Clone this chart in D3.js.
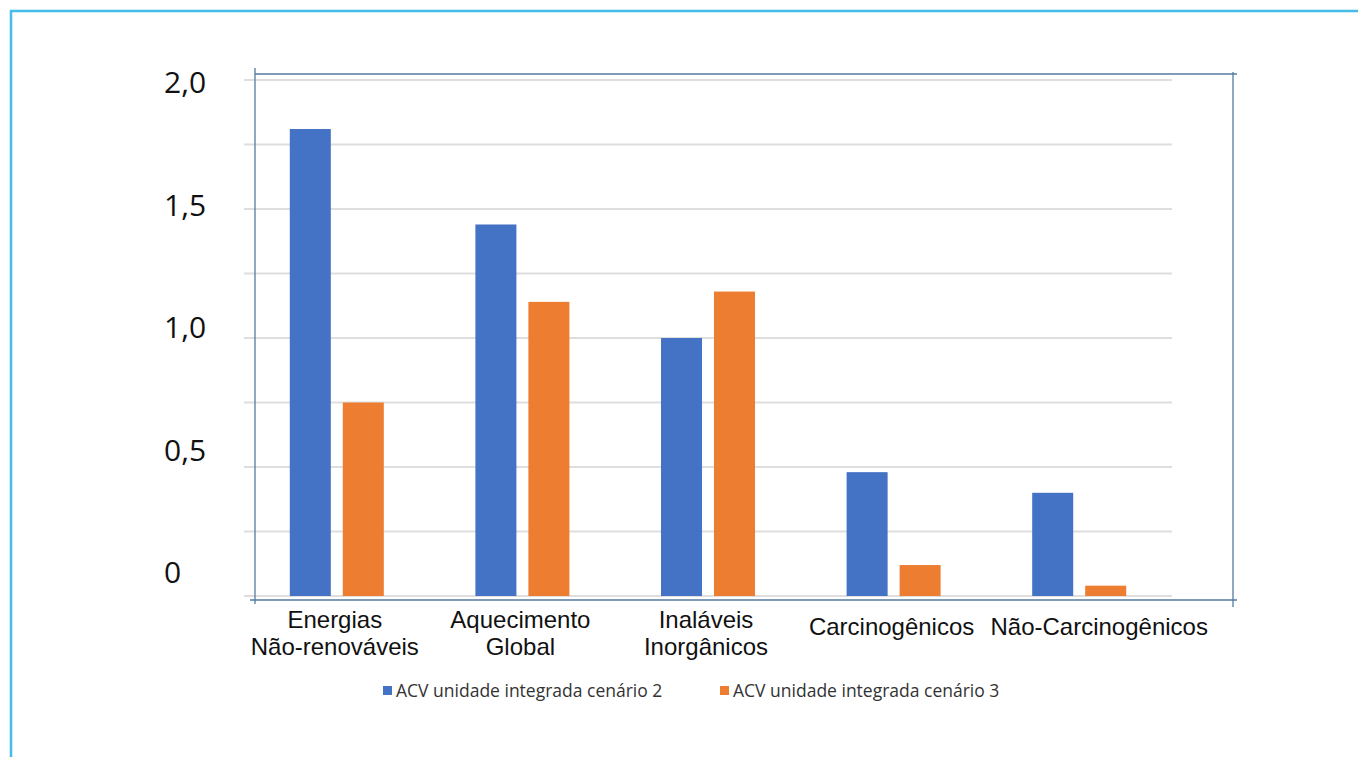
<!DOCTYPE html>
<html>
<head>
<meta charset="utf-8">
<script src="https://cdn.jsdelivr.net/npm/d3@7"></script>
<style>
  body { margin: 0; background: #fff; }
  svg { display: block; }
</style>
</head>
<body>
<div id="chart"></div>
<script>
// categories (each one split into the lines shown under the axis)
let categories = [
    ["Energias", "Não-renováveis"],
    ["Aquecimento", "Global"],
    ["Inaláveis", "Inorgânicos"],
    ["Carcinogênicos"],
    ["Não-Carcinogênicos"]
];

let seriesNames = ["ACV unidade integrada cenário 2", "ACV unidade integrada cenário 3"];
let cenario2 = [1.81, 1.44, 1.00, 0.48, 0.40];
let cenario3 = [0.75, 1.14, 1.18, 0.12, 0.04];
let colors = ["#4472c4", "#ed7d31"];

let gridTicks = [0, 0.25, 0.5, 0.75, 1, 1.25, 1.5, 1.75, 2];
let labelTicks = [0, 0.5, 1, 1.5, 2];
let tickLabels = ["0", "0,5", "1,0", "1,5", "2,0"];

let width = 1358, height = 757;

let svg = d3.select('#chart').append('svg')
    .attr('width', width)
    .attr('height', height);

// light blue page frame (top + left)
svg.append('path')
    .attr('d', 'M11,757 V11 H1358')
    .attr('fill', 'none')
    .attr('stroke', '#45bde6')
    .attr('stroke-width', 2.5);

// scales
let x = d3.scaleBand()
    .domain(d3.range(categories.length))
    .range([244, 1172])
    .paddingInner(0.4935)
    .paddingOuter(0.4935 / 2);

let xs = d3.scaleBand()
    .domain([0, 1])
    .range([0, x.bandwidth()])
    .paddingInner(0.226)
    .paddingOuter(0);

let y = d3.scaleLinear().domain([0, 2]).range([596, 80]);
// the tick text sits on its own, slightly tighter scale in the original
let yLab = d3.scaleLinear().domain([0, 2]).range([572, 82]);

// gridlines
svg.append('g')
    .selectAll('line')
    .data(gridTicks)
    .join('line')
    .attr('x1', 244)
    .attr('x2', 1172)
    .attr('y1', d => y(d))
    .attr('y2', d => y(d))
    .attr('stroke', '#dedede')
    .attr('stroke-width', 2);

// bars
let rows = categories.map((c, i) => [cenario2[i], cenario3[i]]);
let groups = svg.append('g')
    .selectAll('g')
    .data(rows)
    .join('g')
    .attr('transform', (d, i) => `translate(${x(i)},0)`);

groups.selectAll('rect')
    .data(d => d)
    .join('rect')
    .attr('x', (d, j) => xs(j))
    .attr('width', xs.bandwidth())
    .attr('y', d => y(d))
    .attr('height', d => y(0) - y(d))
    .attr('fill', (d, j) => colors[j]);

// plot frame
let frame = svg.append('g')
    .attr('stroke', '#557aa3')
    .attr('stroke-width', 1.3)
    .attr('fill', 'none');
frame.append('line').attr('x1', 255).attr('x2', 1237).attr('y1', 74).attr('y2', 74);
frame.append('line').attr('x1', 255).attr('x2', 255).attr('y1', 68).attr('y2', 604);
frame.append('line').attr('x1', 1233).attr('x2', 1233).attr('y1', 72).attr('y2', 607);
frame.append('line').attr('x1', 250).attr('x2', 1237).attr('y1', 600).attr('y2', 600);

// y tick labels
let yAxis = svg.append('g')
    .attr('transform', 'translate(164,0)')
    .call(d3.axisRight(yLab).tickValues(labelTicks).tickSize(0)
        .tickFormat((d, i) => tickLabels[i]));
yAxis.select('.domain').remove();
yAxis.selectAll('text')
    .attr('x', 0)
    .attr('dy', '0.36em')
    .attr('text-anchor', 'start')
    .style('font-family', '"Open Sans", sans-serif')
    .style('font-size', '30px')
    .attr('fill', '#111');

// category labels (the last one sits a little right of its bars)
let catLabels = svg.append('g')
    .selectAll('text')
    .data(categories)
    .join('text')
    .attr('text-anchor', 'middle')
    .attr('x', (d, i) => x(i) + x.bandwidth() / 2 + (i === categories.length - 1 ? 20 : -2))
    .attr('y', d => d.length > 1 ? 628 : 635)
    .style('font-family', '"Liberation Sans", Arial, sans-serif')
    .style('font-size', '24px')
    .attr('fill', '#111');

catLabels.selectAll('tspan')
    .data(d => d)
    .join('tspan')
    .attr('x', function() { return d3.select(this.parentNode).attr('x'); })
    .attr('dy', (d, i) => i === 0 ? 0 : 27)
    .text(d => d);

// legend
let legendX = [383, 720];
let legend = svg.append('g')
    .selectAll('g')
    .data(seriesNames)
    .join('g')
    .attr('transform', (d, i) => `translate(${legendX[i]},691)`);

legend.append('rect')
    .attr('x', 0)
    .attr('y', -5)
    .attr('width', 9)
    .attr('height', 9)
    .attr('fill', (d, i) => colors[i]);

legend.append('text')
    .attr('x', 13)
    .attr('dy', '0.35em')
    .style('font-family', '"Open Sans", sans-serif')
    .style('font-size', '17.5px')
    .attr('fill', '#333')
    .text(d => d);
</script>
</body>
</html>
